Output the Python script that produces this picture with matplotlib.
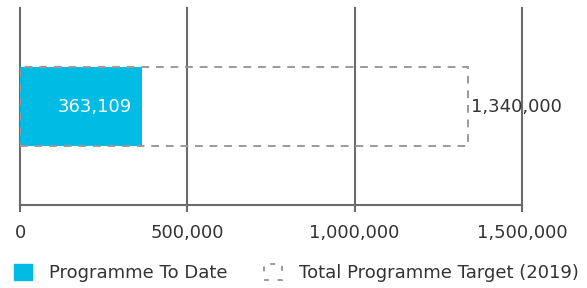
import matplotlib
matplotlib.use("Agg")
import matplotlib.pyplot as plt
from matplotlib.patches import Patch
from matplotlib.ticker import FuncFormatter

plt.rcParams['font.family'] = ['DejaVu Sans']

categories = ["Programme"]
to_date = [363109]
target = [1340000]
xticks = [0, 500000, 1000000, 1500000]
series_names = ["Programme To Date", "Total Programme Target (2019)"]

cyan = "#00BCE4"
grid_c = "#6b6b6b"
dash_c = "#9a9a9a"
text_c = "#333333"
fs = 13

fig = plt.figure(figsize=(5.87, 2.88), dpi=100)
ax = fig.add_axes([20/587, 1-205/288, (522-20)/587, (205-8)/288])

y = list(range(len(categories)))
ax.barh(y, target, height=0.4, left=0, facecolor="none", edgecolor=dash_c,
        linewidth=1.4, linestyle=(0, (4, 3.5)), zorder=3)
ax.barh(y, to_date, height=0.4, color=cyan, zorder=2)

for yi, v in zip(y, to_date):
    ax.text(v - 30000, yi, f"{v:,}", color="white", ha="right", va="center", fontsize=fs, zorder=4)
for yi, v in zip(y, target):
    ax.text(v + 8000, yi, f"{v:,}", color=text_c, ha="left", va="center", fontsize=fs, zorder=4)

ax.set_xlim(0, 1500000)
ax.set_ylim(-0.5, 0.5)
ax.set_xticks(xticks)
ax.xaxis.set_major_formatter(FuncFormatter(lambda v, p: f"{int(v):,}"))
ax.set_yticks([])
ax.grid(axis="x", color=grid_c, linewidth=1.5, zorder=1)
ax.set_axisbelow(True)
for line in ax.get_xgridlines():
    line.set_clip_on(False)
for s in ["top", "right", "left"]:
    ax.spines[s].set_visible(False)
ax.spines["bottom"].set_color(grid_c)
ax.spines["bottom"].set_linewidth(1.5)
ax.tick_params(axis="x", colors=grid_c, length=5, width=1.5, labelcolor=text_c,
               labelsize=fs, pad=9)

handles = [Patch(facecolor=cyan, edgecolor=cyan),
           Patch(facecolor="none", edgecolor=dash_c, linestyle=(0, (2.5, 4.5)), linewidth=1.4)]
fig.legend(handles, series_names, loc="center left", bbox_to_anchor=(14/587, 1-273/288),
           ncol=2, frameon=False, fontsize=fs, handlelength=1.0, handleheight=1.0,
           handletextpad=0.95, columnspacing=2.0, labelcolor=text_c,
           borderpad=0, borderaxespad=0)

fig.savefig("out.png", dpi=100)
